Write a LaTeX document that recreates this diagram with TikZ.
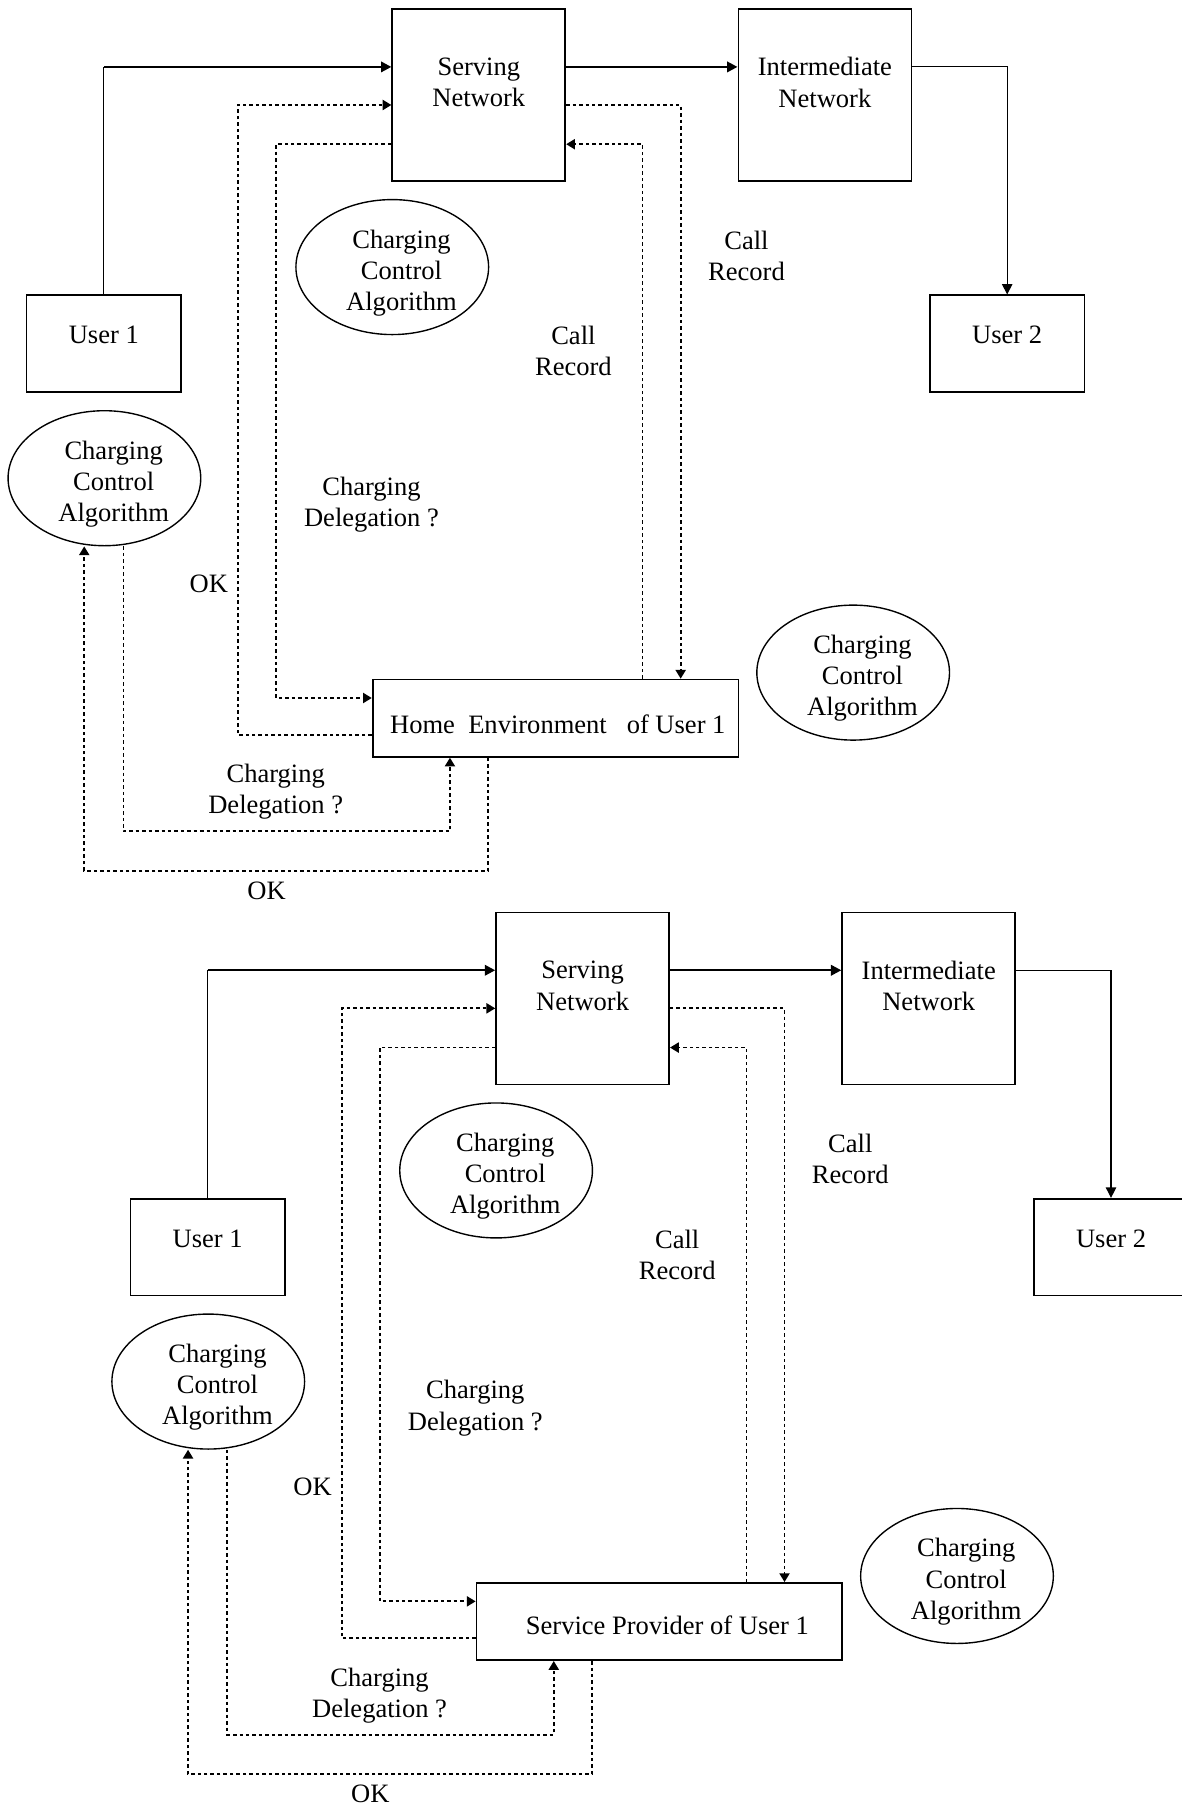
\documentclass[tikz,border=0pt]{standalone}
\usepackage{fontspec}
\setmainfont{Liberation Serif}
\usetikzlibrary{arrows.meta,shapes.geometric}

\begin{document}
\begin{tikzpicture}[x=0.5pt,y=-0.5pt,
  every node/.style={font=\fontsize{11.5}{13.5}\selectfont},
  box/.style={draw,rectangle,line width=0.75pt,inner sep=0pt},
  netbox/.style={box,minimum width=75pt,minimum height=74.5pt},
  userbox/.style={box,minimum width=67pt,minimum height=42pt},
  homebox/.style={box,minimum width=158.5pt,minimum height=33.5pt},
  algo/.style={draw,ellipse,line width=0.6pt,minimum width=83.5pt,minimum height=58.5pt,inner sep=0pt,
    label={[txt,anchor=center,xshift=4pt,yshift=-2.5pt]center:Charging\\Control\\Algorithm}},
  txt/.style={align=center,inner sep=0pt},
  callpath/.style={line width=1pt,-{Triangle[length=4.5pt,width=4.5pt]}},
  wire/.style={line width=0.5pt},
  flow/.style={line width=0.75pt,dash pattern=on 1.5pt off 1.3pt,-{Triangle[length=3.8pt,width=4.4pt]}}]
\useasboundingbox (0,0) rectangle (1024,1568);
\foreach \p/\dx/\dy/\hx/\hy/\home in {%
  1/0/0/1pt/-2.75pt/{Home\ \ Environment\ \ \ of User 1},%
  2/90/783/3.5pt/-1.5pt/{Service Provider of User 1}} {
\begin{scope}[shift={(\dx,\dy)}]
  % boxes
  \node[netbox,label={[txt,anchor=center,yshift=5.5pt]center:Serving\\Network}] (sn\p) at (415,82.5) {};
  \node[netbox,label={[txt,anchor=center,yshift=5.5pt]center:Intermediate\\Network}] (in\p) at (715,82.5) {};
  \node[userbox,label={[txt,anchor=center,yshift=3.75pt]center:User 1}] (ua\p) at (90,298) {};
  \node[userbox,label={[txt,anchor=center,yshift=3.75pt]center:User 2}] (ub\p) at (873,298) {};
  \node[homebox,label={[txt,anchor=center,xshift=\hx,yshift=\hy]center:\home}] (he\p) at (481.5,622.5) {};
  % charging control
  \node[algo] (cm\p) at (340,231.5) {};
  \node[algo] (cl\p) at (90.5,414.5) {};
  \node[algo] (cr\p) at (739.5,583) {};
  % call path
  \coordinate (k\p) at (90,58);
  \draw[wire] (ua\p.north) -- (k\p);
  \draw[callpath] (k\p) -- (k\p -| sn\p.west);
  \draw[callpath] (k\p -| sn\p.east) -- (k\p -| in\p.west);
  \draw[wire,-{Triangle[length=4.5pt,width=4.5pt]}] (k\p -| in\p.east) -| (ub\p.north);
  % signalling
  \draw[flow] ([yshift=-21.25pt]sn\p.west) -- ++(-100,0) |- ([yshift=8.75pt]he\p.west);
  \draw[flow] ([yshift=-7.25pt]he\p.west) -- ++(-116,0) |- ([yshift=-4.25pt]sn\p.west);
  \draw[flow] ([yshift=-4.25pt]sn\p.east) -| ([xshift=54.25pt]he\p.north);
  \draw[flow] ([xshift=37.75pt]he\p.north) |- ([yshift=-21.25pt]sn\p.east);
  \draw[flow] ([xshift=8.25pt]cl\p.south) -- ++(0,247) -| ([xshift=-45.75pt]he\p.south);
  \draw[flow] ([xshift=-29.25pt]he\p.south) -- ++(0,98) -| ([xshift=-8.75pt]cl\p.south);
  % labels
  \node[txt] (dq\p) at (322,437.5) {Charging\\Delegation ?};
  \node[txt] (ok\p) at (181,506) {OK};
  \node[txt] (ci\p) at (497,304.5) {Call\\Record};
  \node[txt] (co\p) at (647,221.5) {Call\\Record};
  \node[txt] (dl\p) at (239,686.5) {Charging\\Delegation ?};
  \node[txt] (ol\p) at (231,772) {OK};
\end{scope}
}
\end{tikzpicture}
\end{document}
